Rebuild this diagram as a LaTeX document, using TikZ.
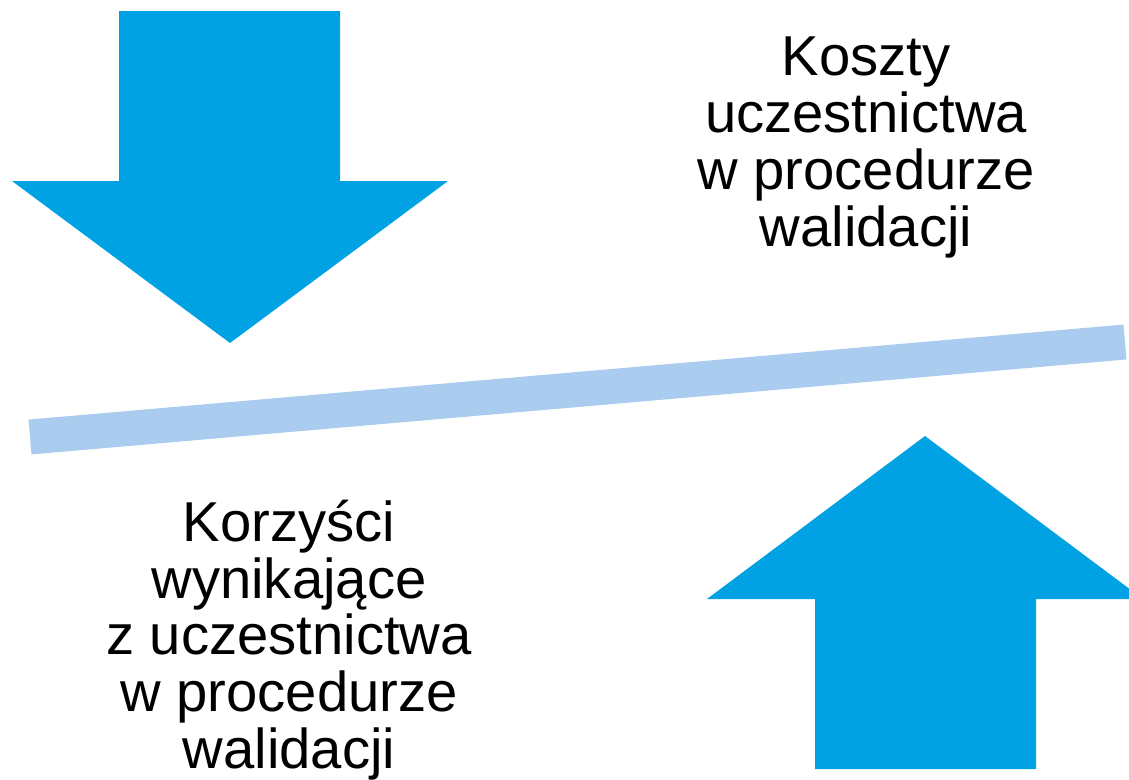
\documentclass[tikz,border=0pt]{standalone}
\usepackage{fontspec}
\setmainfont{Liberation Sans}
\definecolor{arrowblue}{RGB}{0,162,227}
\definecolor{barblue}{RGB}{170,204,238}

\begin{document}
\begin{tikzpicture}[x=0.02cm, y=-0.02cm]
            \tikzstyle{every node}+=[inner sep=0pt]
            \tikzstyle{bigarrow}=[fill=arrowblue, draw=none]
            \tikzstyle{label}=[align=center, font=\fontsize{32}{32.3}\selectfont]
            \useasboundingbox (0,0) rectangle (1129,779);
            \clip (0,0) rectangle (1129,779);
            \fill [bigarrow] (119,11) -- (340,11) -- (340,181) -- (448,181) -- (230,343) -- (12,181) -- (119,181) -- cycle;
            \fill [bigarrow] (815,769) -- (1036,769) -- (1036,599) -- (1143,599) -- (925,436) -- (707,599) -- (815,599) -- cycle;
            \coordinate (barleft) at (30,437);
            \coordinate (barright) at (1125,342);
            \draw [barblue, line width=0.7cm] (barleft) -- (barright);
            \node [label] (costs) at (866,147.5) {Koszty\\uczestnictwa\\w procedurze\\walidacji};
            \node [label] (gains) at (289,640) {Korzyści\\wynikające\\z uczestnictwa\\w procedurze\\walidacji};
\end{tikzpicture}
\end{document}
